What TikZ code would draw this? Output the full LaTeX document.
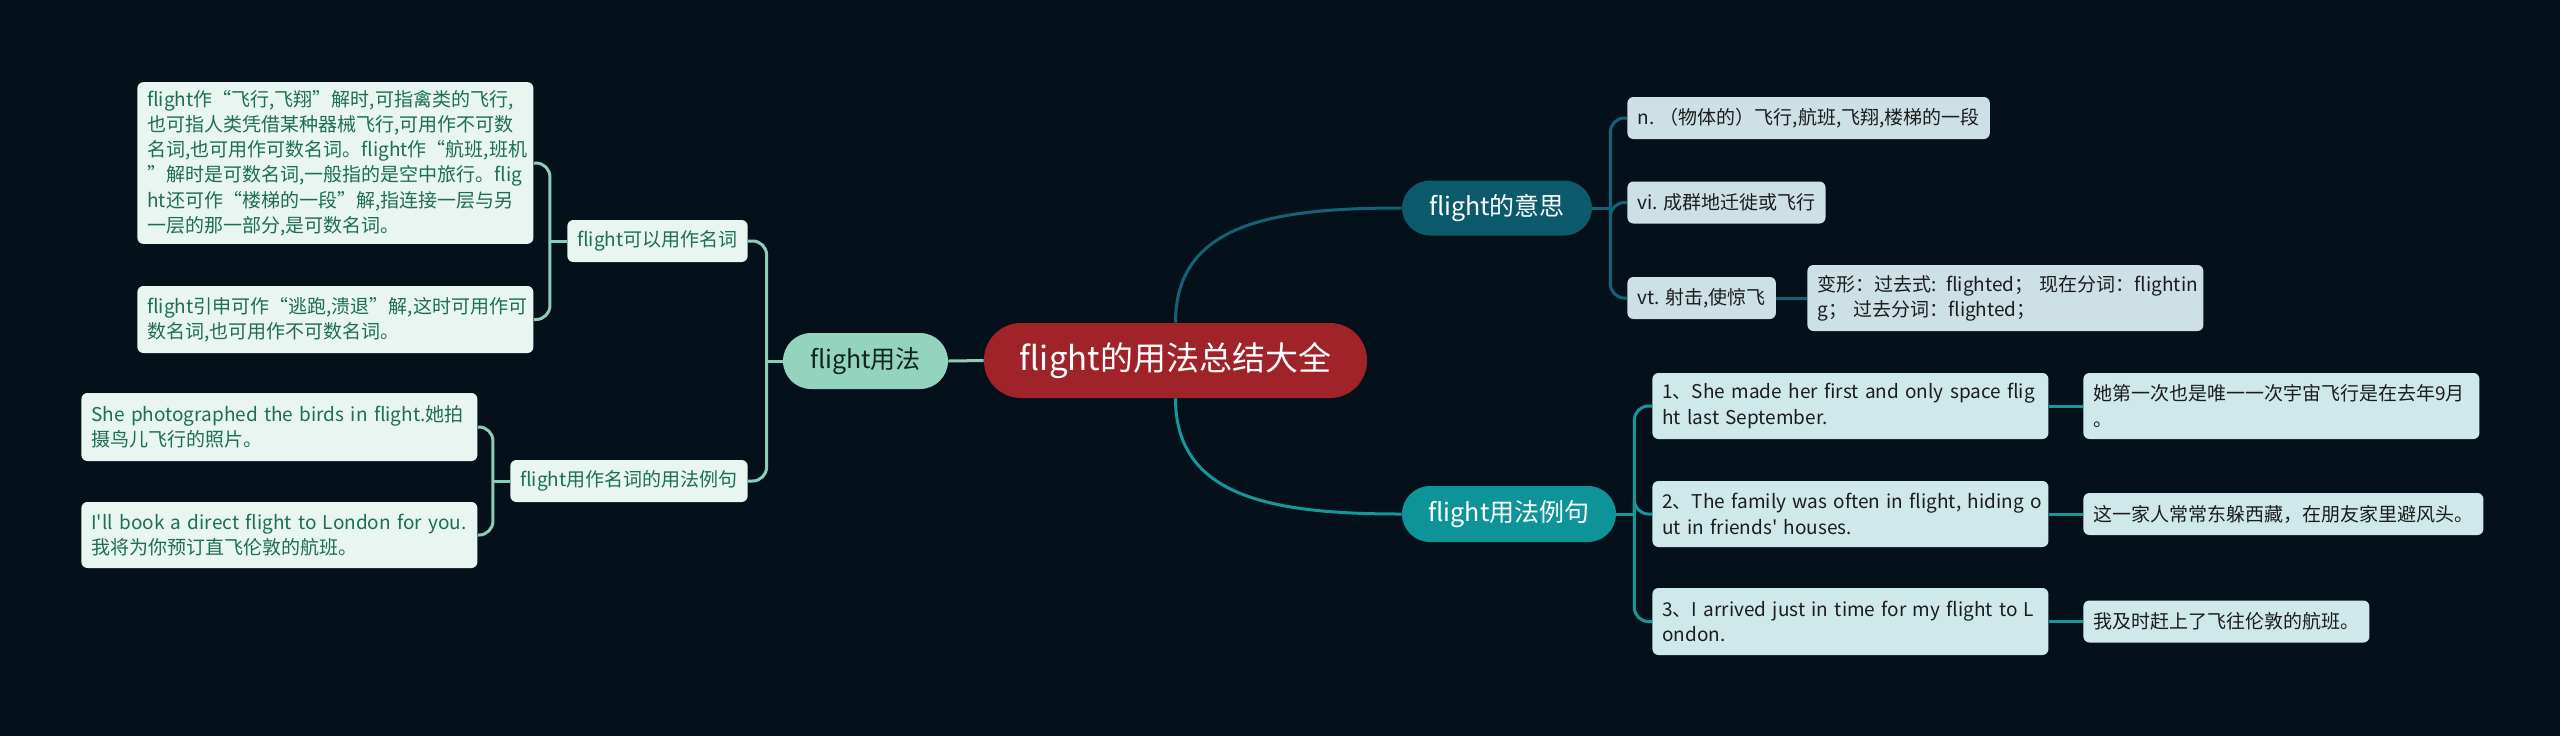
\documentclass[tikz,border=0pt]{standalone}
\usepackage{fontspec}
\setmainfont{Noto Sans CJK SC}[Ligatures=TeXOff]
\usetikzlibrary{positioning}

\definecolor{bgdark}{HTML}{04111A}
\definecolor{rootred}{HTML}{A0232A}
\definecolor{mintmid}{HTML}{94D3BD}
\definecolor{mintline}{HTML}{8BCDB6}
\definecolor{mintleaf}{HTML}{E8F5F0}
\definecolor{minttext}{HTML}{1E6D55}
\definecolor{usagetext}{HTML}{10251F}
\definecolor{meanblue}{HTML}{0B5B6D}
\definecolor{meanline}{HTML}{136376}
\definecolor{meanleaf}{HTML}{CCE0E5}
\definecolor{exteal}{HTML}{0E9498}
\definecolor{exline}{HTML}{14989A}
\definecolor{exleaf}{HTML}{CFE9EB}
\definecolor{leaftext}{HTML}{1C1C1C}

\begin{document}
\begin{tikzpicture}[x=0.5pt, y=-0.5pt,
    pill/.style={rounded corners=14pt, minimum height=28pt, inner xsep=0pt,
      font=\fontsize{12.5}{15}\selectfont},
    leaf/.style={rounded corners=3pt, inner xsep=5pt, inner ysep=4pt,
      minimum height=21pt, align=left, anchor=west,
      font=\fontsize{9.5}{12.6}\selectfont},
    leafL/.style={leaf, fill=mintleaf, text=minttext},
    leafM/.style={leaf, fill=meanleaf, text=leaftext},
    leafE/.style={leaf, fill=exleaf, text=leaftext},
    link/.style={line width=1.5pt},
    fork/.style={link, rounded corners=7pt}]

    % --- Background ---
    \fill[bgdark] (0,0) rectangle (2560,736);

    % --- Central topic ---
    \node[pill, fill=rootred, text=white, minimum width=191.5pt,
      minimum height=37.5pt, rounded corners=18.5pt,
      font=\fontsize{16.5}{20}\selectfont] (root) at (1175.5,360.5) {flight的用法总结大全};

    % --- Left branch: usage ---
    \node[pill, fill=mintmid, text=usagetext, minimum width=82.5pt] (usage) at (865.5,361) {flight用法};
    \node[leafL, anchor=east] (usenoun) at (748,241) {flight可以用作名词};
    \node[leafL, anchor=east] (useex) at (748,481) {flight用作名词的用法例句};

    \node[leafL, text width=188pt] (use1) at (137,163)
      {flight作“飞行,飞翔”解时,可指禽类的飞行,\\
       也可指人类凭借某种器械飞行,可用作不可数\\
       名词,也可用作可数名词。flight作“航班,班机\\
       ”解时是可数名词,一般指的是空中旅行。flig\\
       ht还可作“楼梯的一段”解,指连接一层与另\\
       一层的那一部分,是可数名词。};
    \node[leafL, text width=188pt, minimum height=33.5pt] (use2) at (137,319.5)
      {flight引申可作“逃跑,溃退”解,这时可用作可\\
       数名词,也可用作不可数名词。};
    \node[leafL, text width=188pt, minimum height=34pt] (exA) at (81,427)
      {\mbox{She photographed the birds in flight.她拍}\\
       摄鸟儿飞行的照片。};
    \node[leafL, text width=188pt, minimum height=33pt] (exB) at (81,535)
      {\mbox{I'll book a direct flight to London for you.}\\
       我将为你预订直飞伦敦的航班。};

    % --- Right branch: meanings ---
    \node[pill, fill=meanblue, text=white, minimum width=95pt, minimum height=27.5pt] (mean) at (1497,208) {flight的意思};
    \node[leafM] (n1) at (1627,118) {n. （物体的）飞行,航班,飞翔,楼梯的一段};
    \node[leafM] (vi) at (1627,202.5) {vi. 成群地迁徙或飞行};
    \node[leafM] (vt) at (1627,298) {vt. 射击,使惊飞};
    \node[leafM, text width=188pt, minimum height=33pt] (forms) at (1807,298)
      {\mbox{变形：过去式: flighted；\ 现在分词：flightin}\\
       g；\ 过去分词：flighted；};

    % --- Right branch: example sentences ---
    \node[pill, fill=exteal, text=white, minimum width=107pt] (ex) at (1509,514) {flight用法例句};
    \node[leafE, text width=188pt, minimum height=33pt] (s1) at (1652,406)
      {\mbox{1、She made her first and only space flig}\\
       ht last September.};
    \node[leafE, text width=188pt, minimum height=33pt] (s2) at (1652,514)
      {\mbox{2、The family was often in flight, hiding o}\\
       ut in friends' houses.};
    \node[leafE, text width=188pt, minimum height=33.5pt] (s3) at (1652,621.5)
      {\mbox{3、I arrived just in time for my flight to L}\\
       ondon.};
    \node[leafE, text width=188pt, minimum height=33pt] (t1) at (2083,406)
      {她第一次也是唯一一次宇宙飞行是在去年9月\\
       。};
    \node[leafE] (t2) at (2083,514) {这一家人常常东躲西藏，在朋友家里避风头。};
    \node[leafE] (t3) at (2083,621.5) {我及时赶上了飞往伦敦的航班。};

    % --- Junctions ---
    \coordinate (usagej) at ([xshift=-8pt]usage.west);
    \coordinate (nounj) at ([xshift=-8.5pt]usenoun.west);
    \coordinate (usexj) at ([xshift=-8.5pt]useex.west);
    \coordinate (meanj) at ([xshift=9pt]mean.east);
    \coordinate (exj) at ([xshift=9pt]ex.east);

    % --- Left connectors ---
    \draw[link, mintline] (root.west) -- (usage.east);
    \draw[link, mintline] (usage.west) -- (usagej);
    \draw[fork, mintline] (usagej) |- (usenoun.east);
    \draw[fork, mintline] (usagej) |- (useex.east);
    \draw[link, mintline] (usenoun.west) -- (nounj);
    \draw[fork, mintline] (nounj) |- (use1.east);
    \draw[fork, mintline] (nounj) |- (use2.east);
    \draw[link, mintline] (useex.west) -- (usexj);
    \draw[fork, mintline] (usexj) |- (exA.east);
    \draw[fork, mintline] (usexj) |- (exB.east);

    % --- Right connectors ---
    \draw[link, meanline] (root.north) .. controls +(0,-100) and +(-127,0) .. (mean.west);
    \draw[link, exline] (root.south) .. controls +(0,100) and +(-127,0) .. (ex.west);
    \draw[link, meanline] (mean.east) -- (meanj);
    \draw[fork, meanline] (meanj) |- (n1.west);
    \draw[fork, meanline] (meanj) |- (vi.west);
    \draw[fork, meanline] (meanj) |- (vt.west);
    \draw[link, meanline] (vt.east) -- (forms.west);
    \draw[link, exline] (ex.east) -- (exj);
    \draw[fork, exline] (exj) |- (s1.west);
    \draw[fork, exline] (exj) |- (s2.west);
    \draw[fork, exline] (exj) |- (s3.west);
    \draw[link, exline] (s1.east) -- (t1.west);
    \draw[link, exline] (s2.east) -- (t2.west);
    \draw[link, exline] (s3.east) -- (t3.west);

\end{tikzpicture}
\end{document}
